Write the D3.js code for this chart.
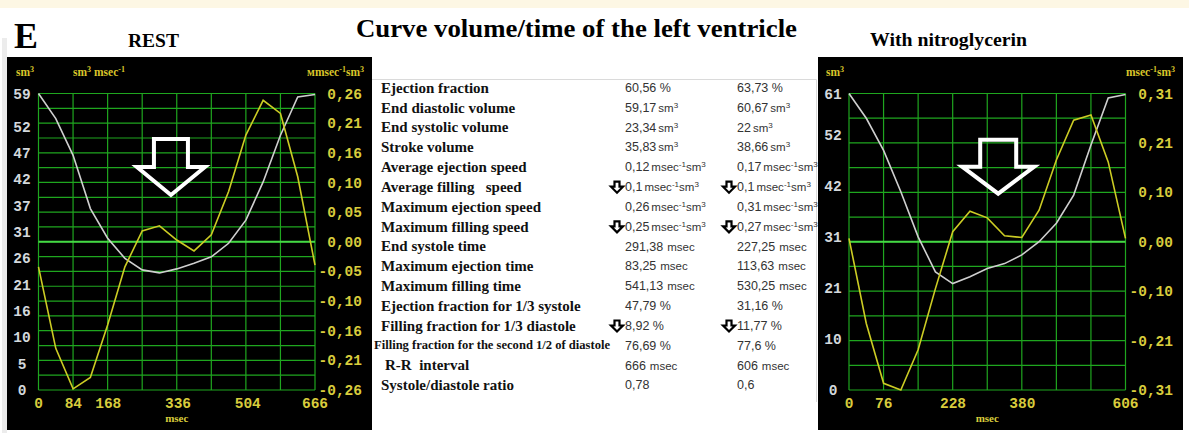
<!DOCTYPE html>
<html>
<head>
<meta charset="utf-8">
<script src="https://cdn.jsdelivr.net/npm/d3@7"></script>
<style>
  body { margin: 0; background: #fff; }
  svg { display: block; }
</style>
</head>
<body>
<div id="figure"></div>
<script>
// ---- data ----
// rest
const timesRest = [0, 41.6, 83.3, 124.9, 166.5, 208.1, 249.8, 291.4, 333, 374.6, 416.3, 457.9, 499.5, 541.1, 582.8, 624.4, 666];
const volumeRest = [59, 54.0, 46.7, 36.1, 30.2, 26.2, 23.9, 23.3, 24.1, 25.2, 26.5, 29.2, 33.8, 41.4, 50.7, 58.3, 58.8];
const flowRest = [-0.044, -0.187, -0.258, -0.238, -0.146, -0.044, 0.019, 0.028, 0.003, -0.016, 0.012, 0.088, 0.187, 0.248, 0.225, 0.114, -0.041];
const timeTicksRest = [0, 84, 168, 336, 504, 666];
const volTicksRest = [0, 5.24, 10.49, 15.73, 20.98, 26.22, 31.47, 36.71, 41.96, 47.2, 52.44, 59];
const flowTicksRest = [-0.26, -0.208, -0.156, -0.104, -0.052, 0, 0.052, 0.104, 0.156, 0.208, 0.26];

// with nitroglycerin
const timesNtg = [0, 37.9, 75.8, 113.6, 151.5, 189.4, 227.3, 265.1, 303, 340.9, 378.8, 416.6, 454.5, 492.4, 530.3, 568.1, 606];
const volumeNtg = [61, 55.9, 49.3, 40.8, 31.5, 24.3, 21.9, 23.3, 25.0, 26.0, 27.8, 30.5, 34.3, 40.1, 50.4, 60.1, 60.8];
const flowNtg = [0.007, -0.171, -0.296, -0.31, -0.226, -0.098, 0.021, 0.064, 0.050, 0.0125, 0.009, 0.066, 0.171, 0.254, 0.265, 0.167, 0.007];
const timeTicksNtg = [0, 76, 228, 380, 606];
const volTicksNtg = [0, 10.49, 20.98, 31.47, 41.96, 52.45, 61];
const flowTicksNtg = [-0.31, -0.2067, -0.1033, 0, 0.1033, 0.2067, 0.31];

// table
const rowLabels = [
  "Ejection fraction", "End diastolic volume", "End systolic volume", "Stroke volume",
  "Average ejection speed", "Average filling   speed", "Maximum ejection speed", "Maximum filling speed",
  "End systole time", "Maximum ejection time", "Maximum filling time", "Ejection fraction for 1/3 systole",
  "Filling fraction for 1/3 diastole", "Filling fraction for the second 1/2 of diastole", "R-R  interval", "Systole/diastole ratio"
];
const rowUnits = ["%", "sm^{3}", "sm^{3}", "sm^{3}", "msec^{-1}sm^{3}", "msec^{-1}sm^{3}", "msec^{-1}sm^{3}", "msec^{-1}sm^{3}",
  "msec", "msec", "msec", "%", "%", "%", "msec", ""];
const valuesRest = ["60,56", "59,17", "23,34", "35,83", "0,12", "0,1", "0,26", "0,25", "291,38", "83,25", "541,13", "47,79", "8,92", "76,69", "666", "0,78"];
const valuesNtg = ["63,73", "60,67", "22", "38,66", "0,17", "0,1", "0,31", "0,27", "227,25", "113,63", "530,25", "31,16", "11,77", "77,6", "606", "0,6"];
const decreasedRows = [5, 7, 12];

// ---- page ----
const W = 1189, H = 435;
const serif = "'Liberation Serif', 'Times New Roman', serif";
const mono = "'Liberation Mono', 'Courier New', monospace";
const sans = "'Liberation Sans', Arial, sans-serif";
const yellowText = "#d8cc3c";

const svg = d3.select("#figure").append("svg")
  .attr("width", W)
  .attr("height", H);

svg.append("rect").attr("width", W).attr("height", H).attr("fill", "#fff");
svg.append("rect").attr("width", W).attr("height", 8).attr("fill", "#fdf7e4");
svg.append("rect").attr("x", 2).attr("y", 38).attr("width", 5).attr("height", 395).attr("fill", "#ececec");

// superscript helper: "sm^{3}" -> sm + raised 3
function richText(sel, str, size) {
  str.split(/(\^\{[^}]*\})/).forEach(s => {
    if (!s) return;
    if (s.startsWith("^{")) {
      sel.append("tspan")
        .attr("baseline-shift", "super")
        .attr("font-size", size * 0.7)
        .text(s.slice(2, -1));
    } else {
      sel.append("tspan").text(s);
    }
  });
}

// headings
svg.append("text").attr("x", 14).attr("y", 48)
  .attr("font-family", serif).attr("font-weight", "bold").attr("font-size", 36)
  .text("E");
svg.append("text").attr("x", 128).attr("y", 47)
  .attr("font-family", serif).attr("font-weight", "bold").attr("font-size", 19.5)
  .text("REST");
svg.append("text").attr("x", 356).attr("y", 37)
  .attr("font-family", serif).attr("font-weight", "bold").attr("font-size", 25)
  .attr("textLength", 441).attr("lengthAdjust", "spacingAndGlyphs")
  .text("Curve volume/time of the left ventricle");
svg.append("text").attr("x", 870).attr("y", 46)
  .attr("font-family", serif).attr("font-weight", "bold").attr("font-size", 19.5)
  .attr("textLength", 157).attr("lengthAdjust", "spacingAndGlyphs")
  .text("With nitroglycerin");

// ---- monitor panels ----
function drawPanel(p) {
  const g = svg.append("g");
  const [bx, by, bw, bh] = p.box;
  const [left, top, right, bottom] = p.plot;

  g.append("rect").attr("x", bx).attr("y", by).attr("width", bw).attr("height", bh).attr("fill", "#000");

  const x = d3.scaleLinear().domain([0, p.rr]).range([left, right]);
  const yVol = d3.scaleLinear().domain([0, p.volMax]).range([bottom, top]);
  const yFlow = d3.scaleLinear().domain([-p.flowMax, p.flowMax]).range([bottom, top]);

  // grid
  const vGrid = d3.range(9).map(i => p.rr * i / 8);
  const hGrid = d3.range(p.gridRows + 1).map(i => p.volMax * i / p.gridRows);

  g.append("g").selectAll("line.v")
    .data(vGrid)
    .enter()
    .append("line")
    .attr("x1", d => x(d)).attr("x2", d => x(d))
    .attr("y1", top).attr("y2", bottom)
    .attr("stroke", "#1fa61f").attr("stroke-width", 1.2);

  g.append("g").selectAll("line.h")
    .data(hGrid)
    .enter()
    .append("line")
    .attr("x1", left).attr("x2", right)
    .attr("y1", d => yVol(d)).attr("y2", d => yVol(d))
    .attr("stroke", "#1fa61f").attr("stroke-width", 1.2);

  g.append("line")
    .attr("x1", left).attr("x2", right)
    .attr("y1", yFlow(0)).attr("y2", yFlow(0))
    .attr("stroke", "#45d845").attr("stroke-width", 2);

  // axis labels
  g.append("g").selectAll("text")
    .data(p.volTicks)
    .enter()
    .append("text")
    .attr("x", bx + 15)
    .attr("y", d => yVol(d))
    .attr("dy", "0.35em")
    .attr("text-anchor", "middle")
    .attr("font-family", mono).attr("font-weight", "bold").attr("font-size", 14.5)
    .attr("fill", "#d3d8dc")
    .text(d => d3.format(".0f")(d));

  g.append("g").selectAll("text")
    .data(p.flowTicks)
    .enter()
    .append("text")
    .attr("x", bx + bw - 10)
    .attr("y", d => yFlow(d))
    .attr("dy", "0.35em")
    .attr("text-anchor", "end")
    .attr("font-family", mono).attr("font-weight", "bold").attr("font-size", 14.5)
    .attr("fill", yellowText)
    .text(d => (d < -1e-9 ? "-" : "") + d3.format(".2f")(Math.abs(d)).replace(".", ","));

  g.append("g").selectAll("text")
    .data(p.timeTicks)
    .enter()
    .append("text")
    .attr("x", d => x(d))
    .attr("y", bottom + 18)
    .attr("text-anchor", "middle")
    .attr("font-family", mono).attr("font-weight", "bold").attr("font-size", 14.5)
    .attr("fill", yellowText)
    .text(d => d);

  g.append("text")
    .attr("x", (left + right) / 2)
    .attr("y", bottom + 32)
    .attr("text-anchor", "middle")
    .attr("font-family", serif).attr("font-weight", "bold").attr("font-size", 11)
    .attr("fill", yellowText)
    .text("msec");

  // unit captions
  p.captions.forEach(c => {
    const t = g.append("text")
      .attr("x", c.x).attr("y", by + 19)
      .attr("text-anchor", c.anchor)
      .attr("font-family", serif).attr("font-weight", "bold").attr("font-size", 11.5)
      .attr("fill", "#d8c42a");
    richText(t, c.text, 11.5);
  });

  // curves
  const volLine = d3.line().x((d, i) => x(p.times[i])).y(d => yVol(d));
  const flowLine = d3.line().x((d, i) => x(p.times[i])).y(d => yFlow(d));

  g.append("path")
    .attr("d", volLine(p.volume))
    .attr("fill", "none")
    .attr("stroke", "#cfcfcf")
    .attr("stroke-width", 1.6);

  g.append("path")
    .attr("d", flowLine(p.flow))
    .attr("fill", "none")
    .attr("stroke", "#cccc24")
    .attr("stroke-width", 1.6);

  // hollow pointer arrow
  const tx = x(p.arrowAt[0]), ty = yVol(p.arrowAt[1]);
  const hw = p.arrowSize[0], sw = p.arrowSize[0] / 2, ah = p.arrowSize[1], hh = p.arrowSize[1] / 2;
  const arrow = [
    [tx - sw, ty - ah], [tx + sw, ty - ah], [tx + sw, ty - hh], [tx + hw, ty - hh],
    [tx, ty], [tx - hw, ty - hh], [tx - sw, ty - hh]
  ];
  g.append("path")
    .attr("d", d3.line()(arrow) + "Z")
    .attr("fill", "none")
    .attr("stroke", "#fff")
    .attr("stroke-width", 4)
    .attr("stroke-linejoin", "miter");
}

drawPanel({
  box: [7, 57, 365, 373], plot: [38.5, 93.5, 315, 390],
  rr: 666, volMax: 59, flowMax: 0.26, gridRows: 20,
  times: timesRest, volume: volumeRest, flow: flowRest,
  timeTicks: timeTicksRest, volTicks: volTicksRest, flowTicks: flowTicksRest,
  arrowAt: [319, 38.8], arrowSize: [34, 56],
  captions: [
    { x: 16, anchor: "start", text: "sm^{3}" },
    { x: 73, anchor: "start", text: "sm^{3}  msec^{-1}" },
    { x: 364, anchor: "end", text: "мmsec^{-1}sm^{3}" }
  ]
});

drawPanel({
  box: [818, 57, 365, 373], plot: [849, 93.5, 1125.5, 390],
  rr: 606, volMax: 61, flowMax: 0.31, gridRows: 12,
  times: timesNtg, volume: volumeNtg, flow: flowNtg,
  timeTicks: timeTicksNtg, volTicks: volTicksNtg, flowTicks: flowTicksNtg,
  arrowAt: [327, 40.4], arrowSize: [36, 54],
  captions: [
    { x: 826, anchor: "start", text: "sm^{3}" },
    { x: 1175, anchor: "end", text: "msec^{-1}sm^{3}" }
  ]
});

// ---- parameter table ----
const table = svg.append("g").attr("id", "table");
table.append("path")
  .attr("d", "M372,79.5H816.5V402")
  .attr("fill", "none")
  .attr("stroke", "#dadada");

const rowY = d3.scalePoint().domain(d3.range(rowLabels.length)).range([87.5, 385]);
const colRest = 625, colNtg = 737;

table.selectAll("text.label")
  .data(rowLabels)
  .enter()
  .append("text")
  .attr("class", "label")
  .attr("x", (d, i) => i === 13 ? 374 : (i === 14 ? 385 : 381))
  .attr("y", (d, i) => rowY(i))
  .attr("dy", "0.35em")
  .attr("xml:space", "preserve")
  .attr("font-family", serif).attr("font-weight", "bold")
  .attr("font-size", (d, i) => i === 13 ? 11.5 : 15)
  .attr("fill", "#111")
  .each(function (d, i) {
    if (i === 13) d3.select(this).attr("textLength", 236).attr("lengthAdjust", "spacingAndGlyphs");
  })
  .text(d => d);

function valueColumn(values, colX) {
  values.forEach((v, i) => {
    const t = table.append("text")
      .attr("x", colX)
      .attr("y", rowY(i))
      .attr("dy", "0.35em")
      .attr("font-family", sans).attr("font-size", 12.5)
      .attr("fill", "#333");
    t.append("tspan").text(v);
    const unit = rowUnits[i];
    if (unit === "%") {
      t.append("tspan").text(" %");
    } else if (unit) {
      const u = t.append("tspan").attr("font-size", 11.5).attr("dx", unit === "msec" ? 4 : 2);
      richText(u, unit, 11.5);
    }
    if (decreasedRows.includes(i)) {
      const ax = colX - 8, ay = rowY(i) + 6;
      const small = [[ax - 2.5, ay - 11], [ax + 2.5, ay - 11], [ax + 2.5, ay - 6], [ax + 6, ay - 6],
        [ax, ay], [ax - 6, ay - 6], [ax - 2.5, ay - 6]];
      table.append("path")
        .attr("d", d3.line()(small) + "Z")
        .attr("fill", "#fff")
        .attr("stroke", "#000")
        .attr("stroke-width", 2.2)
        .attr("stroke-linejoin", "miter");
    }
  });
}
valueColumn(valuesRest, colRest);
valueColumn(valuesNtg, colNtg);
</script>
</body>
</html>
